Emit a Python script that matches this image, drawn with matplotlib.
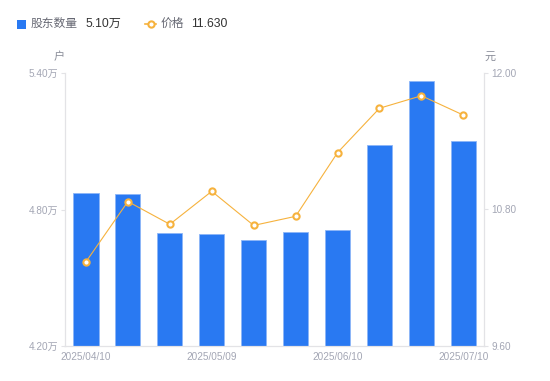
import numpy as np
import matplotlib
matplotlib.use('Agg')
import matplotlib.pyplot as plt
from matplotlib.lines import Line2D
from matplotlib.patches import Rectangle

plt.rcParams['font.family'] = ['Liberation Sans', 'Noto Sans CJK SC', 'DejaVu Sans']

# data
dates = ['2025/04/10', '', '', '2025/05/09', '', '', '2025/06/10', '', '', '2025/07/10']
holders = [4.871, 4.867, 4.698, 4.692, 4.665, 4.700, 4.711, 5.082, 5.364, 5.100]  # 万户
price = [10.34, 10.87, 10.67, 10.96, 10.66, 10.74, 11.30, 11.69, 11.80, 11.63]

left_ticks = [4.20, 4.80, 5.40]
right_ticks = [9.60, 10.80, 12.00]

bar_color = '#2979F2'
line_color = '#F6B23D'
tick_color = '#A3A6B4'
axis_color = '#E3E3E6'

fig = plt.figure(figsize=(5.5, 3.81), dpi=100)
ax = fig.add_axes([65 / 550, 35 / 381, (484.3 - 65) / 550, 273 / 381])
x = np.arange(len(holders))

ax.bar(x, holders, width=0.6, color=bar_color, edgecolor='#8DB6F7', linewidth=0.6, zorder=2)
ax.set_xlim(-0.5, len(holders) - 0.5)
ax.set_ylim(4.2, 5.4)
ax.set_yticks(left_ticks)
ax.set_yticklabels([f'{v:.2f}万' for v in left_ticks])
ax.set_xticks(x)
ax.set_xticklabels(dates)

ax2 = ax.twinx()
ax2.plot(x, price, color=line_color, linewidth=0.8, marker='o', markersize=4.5,
         markerfacecolor='white', markeredgecolor=line_color, markeredgewidth=1.5, zorder=3)
ax2.set_ylim(9.6, 12.0)
ax2.set_yticks(right_ticks)
ax2.set_yticklabels([f'{v:.2f}' for v in right_ticks])

for a in (ax, ax2):
    for s in a.spines.values():
        s.set_color(axis_color)
        s.set_linewidth(0.8)
    a.spines['top'].set_visible(False)
    a.tick_params(colors=tick_color, labelsize=7.2, length=3, width=0.8)
    a.tick_params(axis='y', color=axis_color)
ax.tick_params(axis='x', length=0, pad=4)
ax.tick_params(axis='y', pad=2)
ax2.tick_params(axis='y', pad=2)

# unit labels
fig.text(59 / 550, 1 - 57 / 381, '户', fontsize=8, color='#8A8D99', ha='center', va='center')
fig.text(490 / 550, 1 - 57 / 381, '元', fontsize=8, color='#8A8D99', ha='center', va='center')

# legend header
ly = 1 - 24 / 381
fig.add_artist(Rectangle((17 / 550, ly - 4.5 / 381), 9 / 550, 9 / 381, transform=fig.transFigure,
                         color=bar_color, linewidth=0))
fig.text(31 / 550, ly, '股东数量', fontsize=8.5, color='#666873', ha='left', va='center')
fig.text(85 / 550, ly, '5.10万', fontsize=8.7, color='#333333', ha='left', va='center')
fig.add_artist(Line2D([145 / 550, 156 / 550], [ly, ly], transform=fig.transFigure, color=line_color,
                      linewidth=1.2))
fig.add_artist(Line2D([150.5 / 550], [ly], transform=fig.transFigure, color=line_color, marker='o',
                      markersize=4.5, markerfacecolor='white', markeredgewidth=1.5))
fig.text(161 / 550, ly, '价格', fontsize=8.5, color='#666873', ha='left', va='center')
fig.text(191 / 550, ly, '11.630', fontsize=8.7, color='#333333', ha='left', va='center')

fig.savefig('out.png', dpi=100)
